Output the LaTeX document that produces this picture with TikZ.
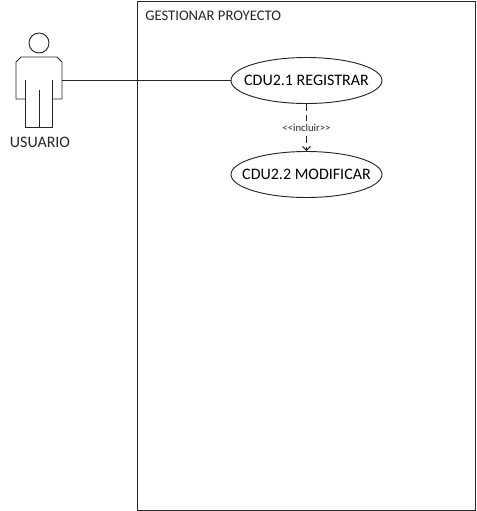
\documentclass[tikz,border=0pt]{standalone}
\usepackage{fontspec}
\setmainfont{Carlito}
\usepackage{tikz}
\usetikzlibrary{arrows,shapes.geometric}
\tikzset{
	linea/.style = {draw=black!85, line width=0.7pt},
	sistema/.style = {rectangle, linea, inner sep=0pt,
		minimum width=253.5pt, minimum height=381.75pt},
	casouso/.style = {ellipse, linea, inner ysep=0pt, inner xsep=-10pt, font=\fontsize{12}{14}\selectfont,
		minimum width=113.25pt, minimum height=34.5pt},
	texto/.style = {inner sep=0pt, text=black!85},
	incluye/.style = {linea, dashed, dash pattern=on 5pt off 3pt, ->, >=angle 90}
}
\begin{document}
\begin{tikzpicture}[x=0.75pt,y=-0.75pt]
\useasboundingbox (0,0) rectangle (477,511);
\node [sistema] (proyecto) at (306,255.5) {};
\node [texto, anchor=west, font=\fontsize{11}{13}\selectfont] (titulo) at (145,15.5) {GESTIONAR PROYECTO};
\node [casouso] (registrar) at (306.5,80.5) {CDU2.1 REGISTRAR};
\node [casouso] (modificar) at (306.5,174.5) {CDU2.2 MODIFICAR};
% actor
\node [circle, linea, inner sep=0pt, minimum size=15pt] (cabeza) at (39,43) {};
\draw [linea] (25,80) -- (25,127.5) -- (52,127.5) -- (52,80);
\draw [linea] (25,99) -- (16,99) -- (16,62) -- (21,57) -- (57,57) -- (62,62) -- (62,99) -- (52,99);
\draw [linea] (39,90) -- (39,127.5);
\node [texto, font=\fontsize{12}{14}\selectfont] (usuario) at (40,142) {USUARIO};
\coordinate (brazo) at (62,80.5);
% conectores
\draw [linea] (brazo) -- (registrar);
\draw [incluye] (registrar) -- (modificar)
	node [midway, fill=white, inner sep=1pt, text=black!85, font=\fontsize{8}{9}\selectfont] (etiqueta) {{<}{<}incluir{>}{>}};
\end{tikzpicture}
\end{document}
